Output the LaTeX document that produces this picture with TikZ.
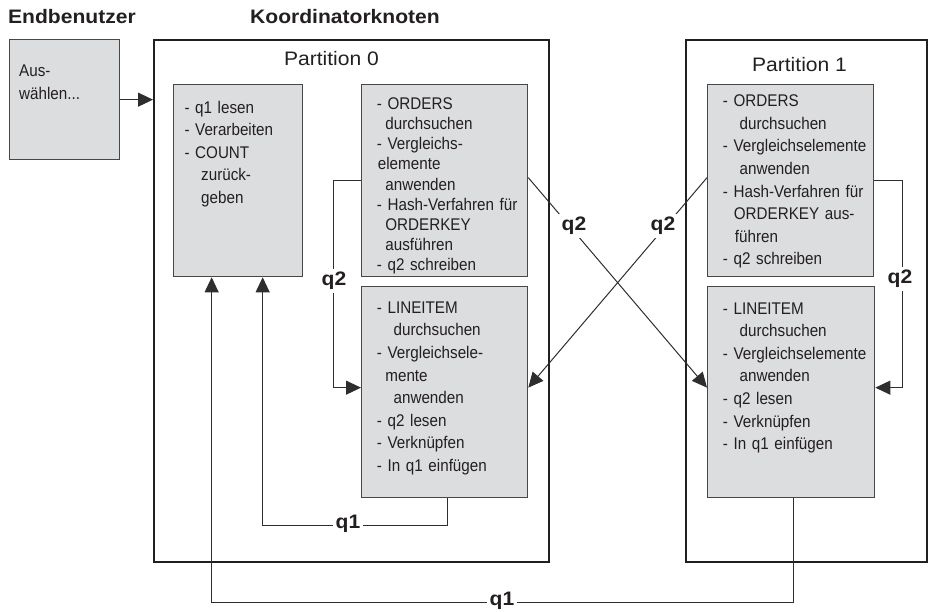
\documentclass[tikz,border=0pt]{standalone}
\usepackage{fontspec}
\setmainfont{Liberation Sans}
\newfontfamily\boxfont[FakeStretch=0.9]{Liberation Sans}
\newfontfamily\headfont[FakeStretch=1.08]{Liberation Sans}
\usepackage{tikz}
\usetikzlibrary{arrows.meta,positioning,calc}
\usepackage{xcolor}
\definecolor{inkblack}{HTML}{231F20}
\definecolor{boxgray}{HTML}{DCDDDF}
\definecolor{edgegray}{HTML}{474747}
\definecolor{wiregray}{HTML}{2E2E2E}
\newcommand{\halfin}{\hspace*{8.5pt}}
\newcommand{\fullin}{\hspace*{16.7pt}}
\tikzset{
  frame/.style={draw=inkblack, line width=2.4pt, anchor=north west, inner sep=0pt},
  stepbox/.style={draw=edgegray, line width=1.3pt, fill=boxgray, anchor=north west, inner sep=0pt},
  steptext/.style={font=\boxfont\fontsize{16.9pt}{#1}\selectfont, text=inkblack, anchor=base west, inner sep=0pt, text width=150pt, align=left},
  steptext/.default=22.6pt,
  heading/.style={font=\headfont\fontsize{19.5pt}{20pt}\selectfont\bfseries, text=inkblack, inner sep=0pt},
  partlabel/.style={font=\headfont\fontsize{19.5pt}{20pt}\selectfont, text=inkblack, anchor=base, inner sep=0pt},
  qlabel/.style={font=\headfont\fontsize{19.5pt}{20pt}\selectfont\bfseries, text=inkblack, fill=white, inner sep=3pt},
  flow/.style={-{Triangle[length=15pt, width=14pt]}, line width=1pt, draw=wiregray}
}

\begin{document}
\begin{tikzpicture}[x=1pt, y=-1pt]
  \useasboundingbox (0,0) rectangle (928,611);
  % headings
  \node[heading, anchor=base west] (hdeu) at (8,23.3) {Endbenutzer};
  \node[heading, anchor=base west] (hdko) at (250,23.3) {Koordinatorknoten};
  % partitions
  \node[frame, minimum width=395pt, minimum height=522pt] (p0) at (153,39) {};
  \node[frame, minimum width=241pt, minimum height=522pt] (p1) at (685,39) {};
  \node[partlabel] (p0lab) at (331.5,65.7) {Partition 0};
  \node[partlabel] (p1lab) at (799.5,71.7) {Partition 1};
  % end user
  \node[stepbox, minimum width=110pt, minimum height=120pt] (eu) at (9,39) {};
  \node[steptext, text width=95pt] (eutxt) at (19,76.7) {Aus-\\wählen...};
  % partition 0 boxes
  \node[stepbox, minimum width=129pt, minimum height=192pt] (p0left) at (173,84) {};
  \node[stepbox, minimum width=166pt, minimum height=192pt] (p0orders) at (361,84) {};
  \node[stepbox, minimum width=166pt, minimum height=211pt] (p0line) at (361,286) {};
  % partition 1 boxes
  \node[stepbox, minimum width=166pt, minimum height=192pt] (p1orders) at (707,84) {};
  \node[stepbox, minimum width=167pt, minimum height=211pt] (p1line) at (707,286) {};
  % box texts
  \node[steptext, text width=115pt] (p0lefttxt) at (184.3,113) {- q1 lesen\\- Verarbeiten\\- COUNT\\\fullin zurück-\\\fullin geben};
  \node[steptext=20.2pt] (p0orderstxt) at (376.7,109.3) {- ORDERS\\\halfin durchsuchen\\- Vergleichs-\\\hspace*{1pt}elemente\\\halfin anwenden\\- Hash-Verfahren für\\\halfin ORDERKEY\\\halfin ausführen\\- q2 schreiben};
  \node[steptext] (p0linetxt) at (376.7,313.3) {- LINEITEM\\\fullin durchsuchen\\- Vergleichsele-\\\halfin mente\\\fullin anwenden\\- q2 lesen\\- Verknüpfen\\- In q1 einfügen};
  \node[steptext] (p1orderstxt) at (722.7,106.7) {- ORDERS\\\fullin durchsuchen\\- Vergleichselemente\\\fullin anwenden\\- Hash-Verfahren für\\\hspace*{11pt}ORDERKEY aus-\\\hspace*{12pt}führen\\- q2 schreiben};
  \node[steptext] (p1linetxt) at (722.7,314) {- LINEITEM\\\fullin durchsuchen\\- Vergleichselemente\\\fullin anwenden\\- q2 lesen\\- Verknüpfen\\- In q1 einfügen};
  % connectors
  \draw[flow] (eu.east) -- (eu.east -| p0.west);
  \draw[flow] (p0orders.west) -- ++(-28,0) |- ([yshift=4.5pt]p0line.west);
  \draw[flow] (p1orders.east) -- ++(28,0) |- ([yshift=4.5pt]p1line.east);
  \draw[flow] ([yshift=3pt]p0orders.east) -- ([yshift=4.5pt]p1line.west);
  \draw[flow] ([yshift=3pt]p1orders.west) -- ([yshift=4.5pt]p0line.east);
  \draw[flow] ([xshift=3pt]p0line.south) -- ++(0,27) -| ([xshift=24.5pt]p0left.south);
  \draw[flow] ([xshift=2.5pt]p1line.south) -- ++(0,104) -| ([xshift=-26.5pt]p0left.south);
  % labels
  \node[qlabel] (q2left) at (334,281) {q2};
  \node[qlabel] (q2right) at (900,279) {q2};
  \node[qlabel] (q2down) at (574,226) {q2};
  \node[qlabel] (q2up) at (663,226) {q2};
  \node[qlabel] (q1inner) at (348,524) {q1};
  \node[qlabel] (q1outer) at (502,601) {q1};
\end{tikzpicture}
\end{document}
